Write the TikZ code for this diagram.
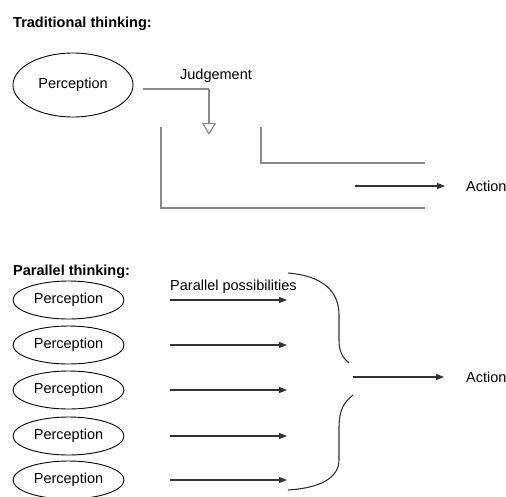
\documentclass[tikz,border=0pt]{standalone}
\usepackage{fontspec}
\setmainfont{Liberation Sans}
\usetikzlibrary{shapes.geometric,arrows.meta}
\definecolor{linegray}{HTML}{8A8A8A}
\definecolor{darkline}{HTML}{333333}
\tikzset{
  bigperc/.style={ellipse,draw=black,line width=0.9pt,minimum width=120pt,minimum height=64pt,inner sep=0pt,font=\fontsize{14.5}{16}\selectfont},
  perc/.style={ellipse,draw=black,line width=0.9pt,minimum width=111pt,minimum height=38pt,inner sep=0pt,font=\fontsize{14.5}{16}\selectfont},
  lbl/.style={inner sep=0pt,font=\fontsize{14.5}{16}\selectfont},
  title/.style={inner sep=0pt,anchor=west,font=\bfseries\fontsize{14.5}{16}\selectfont},
  grayline/.style={draw=linegray,line width=1.2pt},
  arr/.style={draw=darkline,line width=1.1pt,-{Triangle[length=8pt,width=6pt]}},
  openarr/.style={draw=linegray,line width=1.2pt,-{Triangle[open,length=12pt,width=14pt,line width=1.2pt]}},
  bracefill/.style={draw=darkline,line width=1.1pt}
}
\begin{document}
\begin{tikzpicture}[x=1pt,y=-1pt]
\useasboundingbox (0,0) rectangle (506,496);
% Traditional thinking
\node[title] (t1) at (13,24) {Traditional thinking:};
\node[bigperc] (p0) at (73,85) {Perception};
\node[lbl] (judg) at (216,76) {Judgement};
\coordinate (jt) at (209,135);
\draw[grayline] ([xshift=10pt,yshift=-4pt]p0.east) -- (209,89) coordinate (jc);
\draw[openarr] (jc) -- (jt);
\coordinate (b1) at (161,127);
\coordinate (b1e) at (425,208);
\draw[grayline] (b1) |- (b1e);
\coordinate (b2) at (261,127);
\coordinate (b2e) at (425,163);
\draw[grayline] (b2) |- (b2e);
\coordinate (a0s) at (355,186);
\node[lbl,anchor=west] (act0) at (466,186) {Action};
\draw[arr] (a0s) -- ([xshift=-21pt]act0.west);
% Parallel thinking
\node[title] (t2) at (13,272) {Parallel thinking:};
\foreach \i/\y in {1/300,2/345,3/390,4/436,5/480}{
  \node[perc] (p\i) at (68.5,\y) {Perception};
  \coordinate (e\i) at (287,\y);
  \draw[arr] ([xshift=46pt]p\i.east) -- (e\i);
}
\node[lbl,anchor=west] (pp) at (170,287) {Parallel possibilities};
\draw[bracefill] (288,273) .. controls (324,276) and (339,292) .. (339,315) -- (339,340) .. controls (339,352) and (343,358) .. (349,363);
\draw[bracefill] (353,395) .. controls (344,402) and (339,410) .. (339,428) -- (339,460) .. controls (339,478) and (320,488) .. (288,490);
\node[lbl,anchor=west] (act1) at (466,377) {Action};
\coordinate (a1s) at (353,377);
\draw[arr] (a1s) -- ([xshift=-22pt]act1.west);
\end{tikzpicture}
\end{document}
